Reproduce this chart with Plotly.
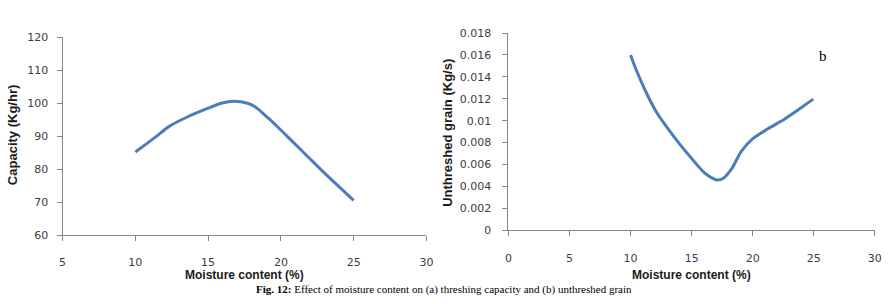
import plotly.graph_objects as go

W, H = 893, 304

# Data (a) capacity
moist_a = [10, 11.4, 12.3, 13.6, 15, 15.9, 16.8, 17.7, 18.2, 19.1, 19.8, 20.7, 21.8, 22.7, 23.6, 25]
capacity = [85.2, 89.8, 92.9, 95.9, 98.5, 100.0, 100.6, 100.0, 99.0, 95.6, 92.7, 88.8, 84.0, 80.1, 76.3, 70.5]

# Data (b) unthreshed grain
moist_b = [10, 10.46, 11.27, 12.08, 12.88, 13.96, 15.04, 16.12, 17.06, 17.6, 18.27, 19.08, 20.03, 21.24, 22.59, 23.93, 24.96]
unthreshed = [0.0160, 0.01465, 0.0126, 0.01087, 0.00955, 0.00795, 0.0065, 0.00518, 0.0046, 0.00475,
              0.0056, 0.00722, 0.00839, 0.00926, 0.01014, 0.01116, 0.01197]

xa_ticks = [5, 10, 15, 20, 25, 30]
ya_ticks = [60, 70, 80, 90, 100, 110, 120]
xb_ticks = [0, 5, 10, 15, 20, 25, 30]
yb_ticks = [0, 0.002, 0.004, 0.006, 0.008, 0.01, 0.012, 0.014, 0.016, 0.018]
yb_labels = ["0", "0.002", "0.004", "0.006", "0.008", "0.01", "0.012", "0.014", "0.016", "0.018"]

LINE = "#4A7EBB"
AX = "#868686"
TICKF = dict(family="DejaVu Sans", size=11, color="#3e3a4a")
XTITLEF = dict(family="Liberation Sans", size=12, color="#1a1a1a")
YTITLEF = dict(family="Liberation Sans", size=13, color="#1a1a1a")

def px(x):
    return x / W

def py(y):
    return (H - y) / H

fig = go.Figure()
fig.add_trace(go.Scatter(x=moist_a, y=capacity, mode="lines", line=dict(color=LINE, width=3, shape="spline", smoothing=0.8),
                         xaxis="x", yaxis="y", showlegend=False))
fig.add_trace(go.Scatter(x=moist_b, y=unthreshed, mode="lines", line=dict(color=LINE, width=3, shape="spline", smoothing=0.8),
                         xaxis="x2", yaxis="y2", showlegend=False))

common = dict(showgrid=False, zeroline=False, showline=True, linecolor=AX, linewidth=1,
              ticks="outside", ticklen=5, tickcolor=AX, tickfont=TICKF)

fig.update_layout(
    width=W, height=H, margin=dict(l=0, r=0, t=0, b=0),
    paper_bgcolor="white", plot_bgcolor="white",
    xaxis=dict(domain=[px(59.3), px(427.7)], range=[5, 30], tickvals=xa_ticks, ticktext=[str(v) for v in xa_ticks],
               anchor="y", ticklabelstandoff=12, **common),
    yaxis=dict(domain=[py(239.3), py(32.7)], range=[60, 120], tickvals=ya_ticks, ticktext=[str(v) for v in ya_ticks],
               anchor="x", ticklabelstandoff=6, **common),
    xaxis2=dict(domain=[px(510.7), px(881.7)], range=[0, 30], tickvals=xb_ticks, ticktext=[str(v) for v in xb_ticks],
                anchor="y2", ticklabelstandoff=13, **common),
    yaxis2=dict(domain=[py(234.3), py(28.3)], range=[0, 0.018], tickvals=yb_ticks, ticktext=yb_labels,
                anchor="x2", ticklabelstandoff=9, **common),
)

ann = []
ann.append(dict(text="<b>Capacity (Kg/hr)</b>", x=px(8), y=py(135), textangle=-90, font=YTITLEF))
ann.append(dict(text="<b>Unthreshed grain (Kg/s)</b>", x=px(449), y=py(132), textangle=-90, font=YTITLEF))
ann.append(dict(text="<b>Moisture content (%)</b>", x=px(243), y=py(281), font=XTITLEF))
ann.append(dict(text="<b>Moisture content (%)</b>", x=px(696), y=py(281), font=XTITLEF))
ann.append(dict(text="b", x=px(829), y=py(52), font=dict(family="Liberation Serif", size=15, color="#000000")))
ann.append(dict(text="<b>Fig. 12:</b> Effect of moisture content on (a) threshing capacity and (b) unthreshed grain",
                x=px(445), y=0, xanchor="center", yanchor="bottom", borderpad=0,
                font=dict(family="Liberation Serif", size=11, color="#000000")))
for a in ann:
    a.setdefault("xanchor", "center")
    a.setdefault("yanchor", "middle")
    a.update(xref="paper", yref="paper", showarrow=False)
fig.update_layout(annotations=ann)

fig.write_html("out.html")
